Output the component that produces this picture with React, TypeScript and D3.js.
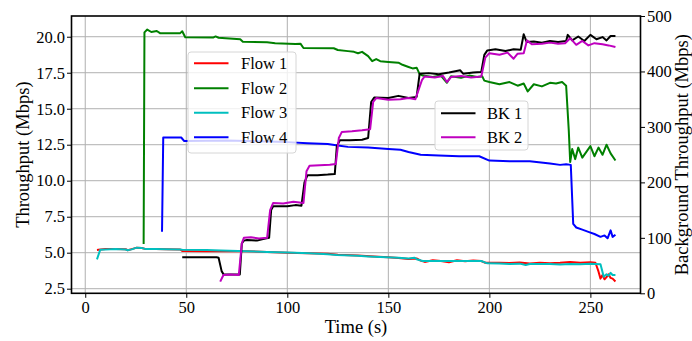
import React, { useEffect, useRef } from 'react';
import * as d3 from 'd3';

const W = 692;
const H = 341;
const box = { left: 71.5, right: 640.5, top: 16, bottom: 293.3 };
const FONT = "'Liberation Serif', 'DejaVu Serif', serif";

const xTicks = [0, 50, 100, 150, 200, 250];
const leftTicks = [2.5, 5, 7.5, 10, 12.5, 15, 17.5, 20];
const rightTicks = [0, 100, 200, 300, 400, 500];

// Flow 1 (left axis, Mbps)
const flow1Time = [5.8, 6.5, 10, 15, 20, 21, 23, 25.5, 28, 30, 35, 40, 47, 48, 60, 67, 70, 80, 90, 100, 110, 120, 125, 135, 145, 150, 155, 160, 164, 166, 168, 172, 176, 180, 184, 188, 192, 196, 198, 205, 210, 215, 220, 225, 230, 235, 240, 245, 250, 252.5, 254, 255, 256, 257, 258, 259, 260, 261, 262.4];
const flow1Val = [5.19, 5.2, 5.25, 5.25, 5.24, 5.17, 5.25, 5.35, 5.33, 5.25, 5.25, 5.24, 5.22, 5.12, 5.1, 5.1, 5.12, 5.1, 5.05, 5.0, 4.97, 4.92, 4.85, 4.8, 4.72, 4.68, 4.63, 4.57, 4.6, 4.45, 4.36, 4.47, 4.42, 4.34, 4.47, 4.4, 4.45, 4.42, 4.3, 4.3, 4.28, 4.32, 4.25, 4.3, 4.27, 4.3, 4.35, 4.3, 4.33, 4.3, 3.7, 3.2, 3.45, 3.15, 3.3, 3.5, 3.25, 3.2, 3.0];

// Flow 2
const flow2Time = [28.9, 29.3, 30.7, 32.7, 35.4, 37, 47, 48, 49.5, 63.5, 64.5, 66, 76.7, 78, 90, 94, 104, 106.5, 108, 123, 125, 130, 133, 135, 137, 140, 142, 144, 146, 150, 155, 157, 160, 162, 164, 165.5, 167, 172, 176, 179, 181, 186, 190, 194, 196.5, 197.5, 200, 205, 210, 214, 217, 219, 222, 226, 230, 233, 236, 238, 239.3, 240, 241, 242.5, 244, 246, 248, 250, 252, 254, 256, 258, 260, 262.4];
const flow2Val = [5.6, 20.3, 20.5, 20.33, 20.4, 20.25, 20.25, 20.38, 19.96, 19.95, 20.02, 19.93, 19.82, 19.65, 19.62, 19.55, 19.5, 19.52, 19.22, 19.2, 19.08, 19.0, 18.95, 18.85, 18.95, 18.65, 18.3, 18.45, 18.3, 18.25, 18.2, 18.05, 17.9, 17.8, 17.85, 17.4, 17.3, 17.2, 17.3, 16.8, 17.25, 17.15, 17.3, 17.2, 17.25, 16.95, 16.85, 16.7, 16.85, 16.6, 16.75, 16.2, 16.7, 16.55, 16.8, 16.75, 16.85, 16.6, 13.5, 11.3, 12.2, 11.5, 12.3, 11.6, 12.0, 12.4, 11.7, 12.3, 11.8, 12.5, 11.9, 11.4];

// Flow 3
const flow3Time = [5.8, 7.4, 10, 15, 20, 21, 23, 25.5, 28, 30, 35, 40, 47, 48, 60, 67, 80, 90, 100, 111, 120, 124.6, 135, 140, 149, 155, 160, 163, 164, 167, 175, 185, 196, 199, 205, 210, 215, 218, 220, 230, 235, 240, 245, 250, 255, 256.6, 258, 259, 260, 261, 262.4];
const flow3Val = [4.54, 5.2, 5.23, 5.25, 5.22, 5.17, 5.23, 5.35, 5.32, 5.25, 5.26, 5.24, 5.22, 5.2, 5.19, 5.15, 5.1, 5.05, 5.02, 4.96, 4.9, 4.84, 4.78, 4.74, 4.68, 4.65, 4.6, 4.65, 4.55, 4.42, 4.43, 4.42, 4.42, 4.26, 4.25, 4.22, 4.24, 4.15, 4.22, 4.21, 4.18, 4.22, 4.2, 4.23, 4.19, 3.33, 3.5, 3.4, 3.6, 3.45, 3.45];

// Flow 4
const flow4Time = [38, 38.6, 47.5, 49, 60, 70, 80, 90, 100, 110, 120, 125, 130, 140, 150, 156, 160, 166, 175, 185, 195, 200, 210, 220, 230, 235, 238, 240.3, 241.5, 243, 246, 249, 252, 255, 257, 258.5, 260, 261, 262.4];
const flow4Val = [6.46, 13.0, 13.0, 12.75, 12.78, 12.8, 12.75, 12.72, 12.68, 12.6, 12.55, 12.45, 12.35, 12.3, 12.2, 12.15, 12.0, 11.8, 11.75, 11.7, 11.7, 11.4, 11.35, 11.35, 11.2, 11.1, 11.15, 11.1, 7.0, 6.75, 6.6, 6.45, 6.3, 6.1, 6.2, 6.0, 6.55, 6.1, 6.25];

// BK 1 (right axis, Mbps)
const bk1Time = [48, 65, 66, 67.5, 68.5, 76.5, 77.5, 78.5, 80, 85, 88, 91, 92, 93, 100, 104, 107, 108.5, 110, 115, 120, 123.5, 124.5, 126, 131, 137, 140, 141.5, 143, 150, 155, 160, 164, 165.5, 170, 175, 180, 185.6, 187, 192, 196, 197.5, 199, 203, 208, 212, 215.5, 217, 218.5, 222, 226, 230, 234, 238, 238.8, 241, 244, 247, 250, 253, 256, 258, 260, 262.4];
const bk1Val = [65, 65, 64, 40, 34, 34, 90, 95, 96, 95, 98, 100, 150, 157, 157, 159, 158, 200, 213, 213, 214, 215, 265, 276, 276, 277, 280, 345, 353, 352, 356, 352, 354, 396, 397, 395, 398, 402, 396, 398, 399, 430, 438, 440, 437, 440, 439, 467, 453, 454, 452, 455, 453, 455, 466, 456, 463, 455, 466, 458, 462, 456, 464, 464];

// BK 2
const bk2Time = [66.8, 68.4, 72, 76, 77.5, 78.5, 82, 86, 90, 91.5, 93, 98, 103, 108, 109.5, 111, 116, 121, 124, 125.5, 127, 132, 137, 141, 142.5, 144, 150, 156, 160, 163.4, 166.7, 168, 173, 177, 179, 181, 186, 191, 196, 198, 200, 205, 209, 212, 214, 217, 218.6, 221, 226, 230, 234, 237.5, 240, 243, 246, 249, 252, 256, 259, 262.4];
const bk2Val = [21, 33, 34, 33, 90, 100, 101, 99, 100, 150, 163, 162, 165, 163, 220, 230, 231, 232, 233, 280, 291, 292, 294, 296, 345, 352, 349, 350, 352, 350, 385, 391, 389, 392, 381, 390, 392, 389, 391, 425, 433, 430, 434, 423, 432, 433, 456, 449, 450, 452, 450, 451, 460, 448, 455, 447, 451, 449, 447, 444];

const flowNames = ['Flow 1', 'Flow 2', 'Flow 3', 'Flow 4'];
const flowColors = ['#ff0000', '#008000', '#00bfbf', '#0000ff'];
const bkNames = ['BK 1', 'BK 2'];
const bkColors = ['#000000', '#bf00bf'];

function zip(t: number[], v: number[]) {
    return t.map((d, i) => [d, v[i]] as [number, number]);
}

function ThroughputChart() {
    const svgRef = useRef<SVGSVGElement>(null);

    useEffect(() => {
        const svg = d3.select(svgRef.current);
        svg.selectAll('*').remove();

        const x = d3.scaleLinear().domain([-6.8, 274.8]).range([box.left, box.right]);
        const yL = d3.scaleLinear().domain([2.18, 21.44]).range([box.bottom, box.top]);
        const yR = d3.scaleLinear().domain([0, 500]).range([box.bottom, box.top]);

        svg.append('rect').attr('width', W).attr('height', H).attr('fill', '#fff');

        // grid
        const grid = svg.append('g').attr('stroke', '#b0b0b0').attr('stroke-width', 1);
        xTicks.forEach(t => grid.append('line')
            .attr('x1', x(t)).attr('x2', x(t)).attr('y1', box.top).attr('y2', box.bottom));
        leftTicks.forEach(t => grid.append('line')
            .attr('x1', box.left).attr('x2', box.right).attr('y1', yL(t)).attr('y2', yL(t)));

        svg.append('clipPath').attr('id', 'plotClip')
            .append('rect')
            .attr('x', box.left).attr('y', box.top)
            .attr('width', box.right - box.left).attr('height', box.bottom - box.top);

        const lineL = d3.line<[number, number]>().x(d => x(d[0])).y(d => yL(d[1]));
        const lineR = d3.line<[number, number]>().x(d => x(d[0])).y(d => yR(d[1]));

        const flows = [zip(flow1Time, flow1Val), zip(flow2Time, flow2Val), zip(flow3Time, flow3Val), zip(flow4Time, flow4Val)];
        const bks = [zip(bk1Time, bk1Val), zip(bk2Time, bk2Val)];

        const plot = svg.append('g').attr('clip-path', 'url(#plotClip)');
        flows.forEach((d, i) => plot.append('path')
            .attr('d', lineL(d)).attr('fill', 'none')
            .attr('stroke', flowColors[i]).attr('stroke-width', 2)
            .attr('stroke-linejoin', 'round'));

        const legend = (names: string[], colors: string[], bx: number, by: number, bw: number, bh: number,
                        rows: number[], hx: number, tx: number) => {
            const g = svg.append('g');
            g.append('rect').attr('x', bx).attr('y', by).attr('width', bw).attr('height', bh)
                .attr('rx', 3).attr('fill', 'rgba(255,255,255,0.8)')
                .attr('stroke', '#d6d6d6').attr('stroke-width', 1);
            names.forEach((n, i) => {
                g.append('line').attr('x1', hx).attr('x2', hx + 34.5)
                    .attr('y1', rows[i]).attr('y2', rows[i])
                    .attr('stroke', colors[i]).attr('stroke-width', 2);
                g.append('text').attr('x', tx).attr('y', rows[i])
                    .attr('dominant-baseline', 'central')
                    .attr('font-family', FONT).attr('font-size', 16.5)
                    .attr('fill', '#000').text(n);
            });
        };
        legend(flowNames, flowColors, 188, 52, 108, 101, [63.3, 88.3, 112.7, 137.3], 194, 241);

        const plot2 = svg.append('g').attr('clip-path', 'url(#plotClip)');
        bks.forEach((d, i) => plot2.append('path')
            .attr('d', lineR(d)).attr('fill', 'none')
            .attr('stroke', bkColors[i]).attr('stroke-width', 2)
            .attr('stroke-linejoin', 'round'));

        legend(bkNames, bkColors, 435, 101, 93, 49, [113.3, 137.3], 441, 487);

        // axes
        const styleAxis = (g: d3.Selection<SVGGElement, unknown, null, undefined>) => {
            g.select('.domain').remove();
            g.selectAll('.tick line').attr('stroke', '#000').attr('stroke-width', 1);
            g.selectAll('.tick text').attr('font-family', FONT).attr('font-size', 16.5).attr('fill', '#000');
        };

        svg.append('g').attr('transform', `translate(0,${box.bottom})`)
            .call(d3.axisBottom(x).tickValues(xTicks).tickSize(4.5).tickPadding(3.5).tickFormat(d3.format('d')))
            .call(styleAxis);
        svg.append('g').attr('transform', `translate(${box.left},0)`)
            .call(d3.axisLeft(yL).tickValues(leftTicks).tickSize(4.5).tickPadding(2).tickFormat(d3.format('.1f')))
            .call(styleAxis);
        svg.append('g').attr('transform', `translate(${box.right},0)`)
            .call(d3.axisRight(yR).tickValues(rightTicks).tickSize(4.5).tickPadding(2).tickFormat(d3.format('d')))
            .call(styleAxis);

        svg.append('rect')
            .attr('x', box.left).attr('y', box.top)
            .attr('width', box.right - box.left).attr('height', box.bottom - box.top)
            .attr('fill', 'none').attr('stroke', '#000').attr('stroke-width', 1.6);

        svg.append('text').attr('x', (box.left + box.right) / 2).attr('y', 333)
            .attr('text-anchor', 'middle').attr('font-family', FONT).attr('font-size', 18.5)
            .text('Time (s)');
        svg.append('text').attr('transform', `translate(29,${(box.top + box.bottom) / 2}) rotate(-90)`)
            .attr('text-anchor', 'middle').attr('font-family', FONT).attr('font-size', 18.5)
            .text('Throughput (Mbps)');
        svg.append('text').attr('transform', `translate(688,${(box.top + box.bottom) / 2}) rotate(-90)`)
            .attr('text-anchor', 'middle').attr('font-family', FONT).attr('font-size', 18.5)
            .text('Background Throughput (Mbps)');
    }, []);

    return <svg ref={svgRef} width={W} height={H}
                style={{ position: 'absolute', left: 0, top: 0, display: 'block' }} />;
}

export default function App() {
    return <ThroughputChart />;
}
